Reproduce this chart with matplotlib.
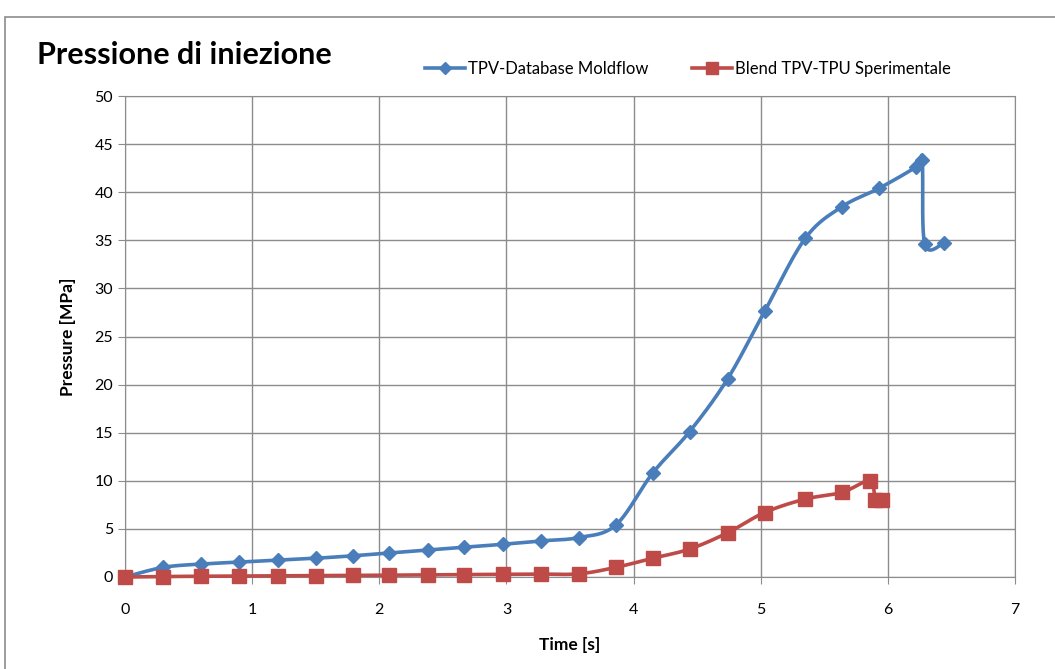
import numpy as np
import matplotlib
matplotlib.use("Agg")
import matplotlib.pyplot as plt
from matplotlib.patches import Rectangle
from matplotlib.lines import Line2D

plt.rcParams['font.family'] = ['Lato', 'DejaVu Sans']

title = "Pressione di iniezione"
xlabel = "Time [s]"
ylabel = "Pressure [MPa]"
name_blue = "TPV-Database Moldflow"
name_red = "Blend TPV-TPU Sperimentale"

blue_t = [0, 0.30, 0.60, 0.90, 1.20, 1.50, 1.79, 2.08, 2.38, 2.67, 2.97, 3.27, 3.57,
          3.86, 4.15, 4.44, 4.74, 5.03, 5.35, 5.64, 5.93, 6.22, 6.27, 6.29, 6.44]
blue_p = [0, 1.0, 1.35, 1.55, 1.75, 1.95, 2.2, 2.5, 2.8, 3.1, 3.4, 3.75, 4.1,
          5.4, 10.8, 15.1, 20.6, 27.6, 35.2, 38.5, 40.4, 42.6, 43.3, 34.6, 34.7]

red_t = [0, 0.30, 0.60, 0.90, 1.20, 1.50, 1.79, 2.08, 2.38, 2.67, 2.97, 3.27, 3.57,
         3.86, 4.15, 4.44, 4.74, 5.03, 5.35, 5.64, 5.86, 5.90, 5.95]
red_p = [0, 0.05, 0.08, 0.1, 0.12, 0.14, 0.17, 0.19, 0.22, 0.25, 0.28, 0.3, 0.33,
         1.0, 1.95, 2.9, 4.6, 6.7, 8.1, 8.8, 10.0, 8.0, 8.0]

xticks = [0, 1, 2, 3, 4, 5, 6, 7]
yticks = [0, 5, 10, 15, 20, 25, 30, 35, 40, 45, 50]


def smooth(x, y, n=20):
    x = np.asarray(x, float); y = np.asarray(y, float)
    px = np.concatenate([[x[0]], x, [x[-1]]])
    py = np.concatenate([[y[0]], y, [y[-1]]])
    xs, ys = [], []
    s = np.linspace(0, 1, n, endpoint=False)
    for i in range(1, len(px) - 2):
        p0x, p1x, p2x, p3x = px[i-1], px[i], px[i+1], px[i+2]
        p0y, p1y, p2y, p3y = py[i-1], py[i], py[i+1], py[i+2]
        t = 1/6
        c1x = p1x + (p2x - p0x) * t; c1y = p1y + (p2y - p0y) * t
        c2x = p2x - (p3x - p1x) * t; c2y = p2y - (p3y - p1y) * t
        bx = (1-s)**3*p1x + 3*(1-s)**2*s*c1x + 3*(1-s)*s**2*c2x + s**3*p2x
        by = (1-s)**3*p1y + 3*(1-s)**2*s*c1y + 3*(1-s)*s**2*c2y + s**3*p2y
        xs.append(bx); ys.append(by)
    xs.append([x[-1]]); ys.append([y[-1]])
    return np.concatenate(xs), np.concatenate(ys)


blue_c = "#4a7ebb"
red_c = "#be4b48"
grid_c = "#8c8c8c"

fig = plt.figure(figsize=(10.55, 6.69), dpi=100)
ax = fig.add_axes([125/1055, 1-577/669, (1015-125)/1055, (577-96)/669])

bx, by = smooth(blue_t, blue_p)
rx, ry = smooth(red_t, red_p)
ax.plot(bx, by, color=blue_c, lw=2.6, zorder=3, solid_capstyle='round', clip_on=False)
ax.plot(blue_t, blue_p, ls='none', marker='D', ms=7, color=blue_c, zorder=4, clip_on=False)
ax.plot(rx, ry, color=red_c, lw=2.6, zorder=3, solid_capstyle='round', clip_on=False)
ax.plot(red_t, red_p, ls='none', marker='s', ms=10, color=red_c, zorder=5, clip_on=False)

ax.set_xlim(0, 7)
ax.set_ylim(0, 50)
ax.set_xticks(xticks)
ax.set_yticks(yticks)
ax.grid(True, color=grid_c, lw=1)
ax.set_axisbelow(True)
for sp in ax.spines.values():
    sp.set_color(grid_c)
ax.tick_params(axis='both', colors=grid_c, labelcolor='black', labelsize=11.5, length=5)
ax.tick_params(axis='x', pad=14)
ax.set_xlabel(xlabel, fontsize=12.5, fontweight='bold', labelpad=14)
ax.set_ylabel(ylabel, fontsize=12.5, fontweight='bold', labelpad=13)

fig.text(37/1055, 1-55/669, title, fontsize=22, fontweight='bold', va='center', ha='left')

handles = [Line2D([], [], color=blue_c, lw=2.6, marker='D', ms=6),
           Line2D([], [], color=red_c, lw=2.6, marker='s', ms=9)]
fig.legend(handles, [name_blue, name_red], loc='center left',
           bbox_to_anchor=(410/1055, 1-69/669), ncol=2, frameon=False,
           fontsize=12, handlelength=2.4, handletextpad=0.2, columnspacing=2.6)

fig.patches.append(Rectangle((5/1055, -0.05), 1.1, 1-17/669 + 0.05, transform=fig.transFigure,
                             fill=False, edgecolor='#8c8c8c', lw=1.2))

fig.savefig("out.png", dpi=100)
